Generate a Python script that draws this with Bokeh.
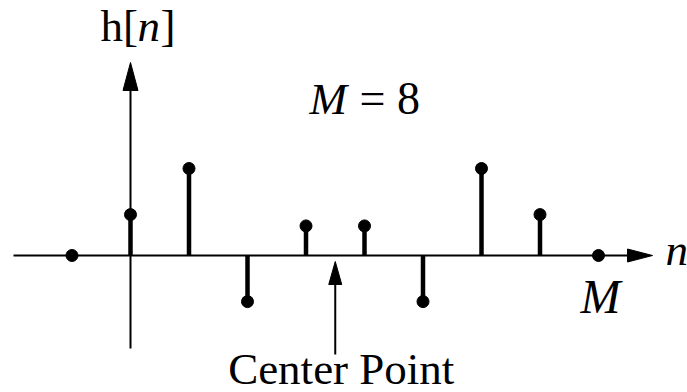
from bokeh.plotting import figure
from bokeh.models import ColumnDataSource, Label
from bokeh.embed import file_html
from bokeh.resources import INLINE

# impulse response samples
n = [-1, 0, 1, 2, 3, 4, 5, 6, 7, 8]
h = [0.0, 0.47, 1.0, -0.53, 0.34, 0.34, -0.53, 1.0, 0.47, 0.0]
M = 8
center_n = 3.5

W, H = 687, 392
# screen geometry of the axes
x0_px, px_per_n = 130.0, 58.5
axis_py, px_per_h = 255.0, 87.0
# the renderer sits alphabetic text a little low; lift it back onto the baseline
baseline_lift = 17


def X(px):
    return (px - x0_px) / px_per_n


def Y(py):
    return (axis_py - py) / px_per_h


def dx(px):
    return px / px_per_n


def dy(px):
    return px / px_per_h


p = figure(width=W, height=H,
           x_range=(X(0), X(W)), y_range=(Y(H), Y(0)),
           x_axis_type=None, y_axis_type=None,
           output_backend="svg", toolbar_location=None, min_border=0)
p.grid.visible = False
p.outline_line_color = None
p.background_fill_color = "white"

ink = "black"

# horizontal n axis with arrow head
p.segment(x0=[X(13)], y0=[0], x1=[X(640)], y1=[0], line_color=ink, line_width=2)
p.patch(x=[X(652), X(627), X(627)], y=[0, dy(6.5), -dy(6.5)],
        fill_color=ink, line_color=ink, line_width=1)

# vertical h axis with arrow head
p.segment(x0=[0], y0=[Y(348)], x1=[0], y1=[Y(80)], line_color=ink, line_width=2)
p.patch(x=[0, -dx(7.5), dx(7.5)], y=[Y(62), Y(90), Y(90)],
        fill_color=ink, line_color=ink, line_width=1)

# stems and sample dots
src = ColumnDataSource(dict(n=n, h=h, z=[0] * len(n)))
p.segment(x0="n", y0="z", x1="n", y1="h", source=src,
          line_color=ink, line_width=4.5, line_cap="butt")
p.scatter(x="n", y="h", source=src, size=12, marker="circle",
          fill_color=ink, line_color=ink)

# center point arrow
p.segment(x0=[center_n], y0=[Y(354)], x1=[center_n], y1=[Y(278)],
          line_color=ink, line_width=2)
p.patch(x=[center_n, center_n - dx(6.5), center_n + dx(6.5)],
        y=[Y(261), Y(284), Y(284)], fill_color=ink, line_color=ink, line_width=1)

serif = "'Liberation Serif', 'DejaVu Serif', serif"


def label(x, py, text, size, italic=False, align="left"):
    p.add_layout(Label(x=x, y=Y(py - baseline_lift), text=text, text_font=serif,
                       text_font_size=f"{size}px",
                       text_font_style="italic" if italic else "normal",
                       text_align=align, text_baseline="alphabetic",
                       text_color=ink))


# h[n] axis title
label(X(100), 42, "h[", 45)
label(X(137), 42, "n", 45, italic=True)
label(X(160), 42, "]", 45)

# M = 8
label(X(309), 115, "M", 45, italic=True)
label(X(359), 115, f"= {M}", 46)

# axis labels
label(X(665), 266, "n", 45, italic=True)
label(M + dx(2), 313, "M", 48, italic=True, align="center")
label(center_n + dx(6), 385, "Center Point", 45, align="center")

open("out.html", "w").write(file_html(p, INLINE))
